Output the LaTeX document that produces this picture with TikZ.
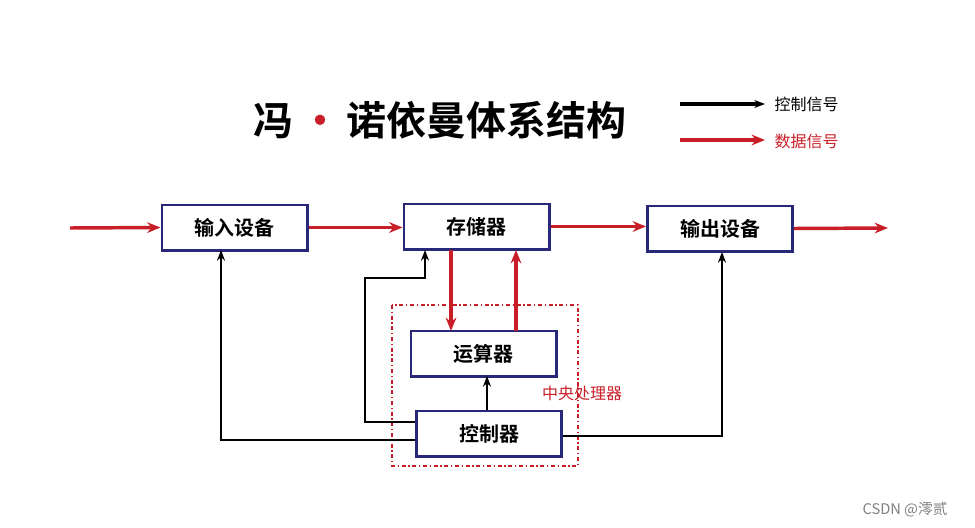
\documentclass[tikz,border=0pt]{standalone}
\usepackage{fontspec}
\newfontfamily\cjk{Noto Sans CJK SC}
\newfontfamily\cjkb{Noto Sans CJK SC Bold}
\usetikzlibrary{arrows.meta}
\definecolor{dred}{RGB}{200,30,40}
\definecolor{bblue}{RGB}{40,40,120}
\begin{document}
\begin{tikzpicture}[x=0.75pt,y=-0.75pt,
  box/.style={draw=bblue,line width=2pt,minimum width=109pt,minimum height=34pt,font=\cjkb\fontsize{15}{15}\selectfont,inner sep=0pt},
  red/.style={draw=dred,line width=2.6pt,-{Stealth[length=10pt,width=8pt]}},
  blk/.style={draw=black,line width=1.8pt,-{Stealth[length=8pt,width=6pt]}}]
\useasboundingbox (0,0) rectangle (975,528);
\node[box] (in) at (234.5,227.5) {输入设备};
\node[box] (mem) at (476.5,226.5) {存储器};
\node[box] (out) at (720,228.5) {输出设备};
\node[box] (alu) at (483.5,353.5) {运算器};
\node[box] (ctl) at (489,433.5) {控制器};
\draw[dred,line width=1pt,dash dot] (392,305) rectangle (578,466);
\node[text=dred,font=\cjk\fontsize{12}{12}\selectfont] (cpu) at (582,393) {中央处理器};
\coordinate (s) at (70,228); \coordinate (e) at (888,228);
\draw[red] (s) -- (in.west);
\draw[red] (in.east) -- (in.east -| mem.west);
\draw[red] (mem.east) -- (mem.east -| out.west);
\draw[red] (out.east) -- (e);
\draw[red] (451,250) -- (451,331);
\draw[red] (516,331) -- (516,250);
\draw[blk] (ctl.west |- 0,440) -- (221,440) -- (221,250);
\draw[blk] (ctl.east |- 0,436) -- (722,436) -- (722,252);
\draw[blk] (487,410) -- (487,376);
\draw[blk] (ctl.west |- 0,422) -- (365,422) -- (365,278) -- (425,278) -- (425,250);
\node[font=\cjkb\fontsize{30}{30}\selectfont] (title) at (440,120) {冯\,{\color{dred}·}\,诺依曼体系结构};
\coordinate (l1) at (680,104); \coordinate (l2) at (765,104);
\coordinate (l3) at (680,140); \coordinate (l4) at (765,140);
\draw[blk,line width=2.6pt] (l1) -- (l2);
\draw[red] (l3) -- (l4);
\node[anchor=west,font=\cjk\fontsize{12}{12}\selectfont] (t1) at (770,104) {控制信号};
\node[anchor=west,text=dred,font=\cjk\fontsize{12}{12}\selectfont] (t2) at (770,141) {数据信号};
\node[text=gray,font=\cjk\fontsize{11}{11}\selectfont] (wm) at (905,510) {CSDN @澪贰};
\end{tikzpicture}
\end{document}
